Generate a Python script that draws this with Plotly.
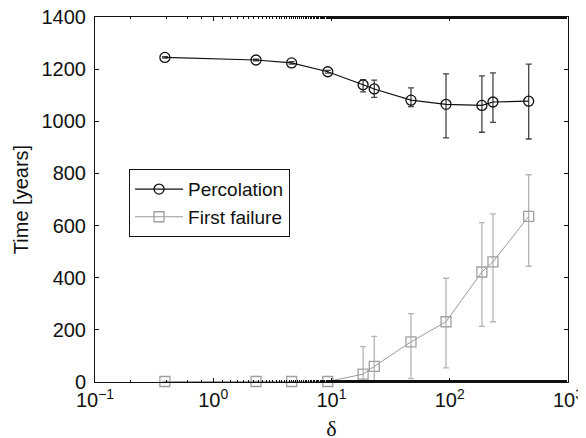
import plotly.graph_objects as go

delta = [0.39, 2.3, 4.6, 9.3, 18.5, 23, 47, 93, 187, 232, 465]

perc = [1245, 1235, 1224, 1190, 1140, 1124, 1081, 1065, 1061, 1074, 1077]
perc_up = [3, 3, 5, 5, 20, 34, 47, 117, 113, 112, 142]
perc_dn = [3, 3, 5, 5, 27, 32, 25, 129, 103, 78, 145]

fail = [2, 2, 2, 2, 30, 60, 154, 231, 422, 461, 635]
fail_up = [0, 0, 0, 0, 106, 115, 108, 167, 189, 184, 160]
fail_dn = [0, 0, 0, 0, 30, 60, 141, 177, 209, 230, 191]

xtickvals = [0.1, 1, 10, 100, 1000]
xticktext = ["10<sup>−1</sup>", "10<sup>0</sup>", "10<sup>1</sup>", "10<sup>2</sup>", "10<sup>3</sup>"]
yticks = [0, 200, 400, 600, 800, 1000, 1200, 1400]

FONT = "Liberation Sans, Arial, Helvetica, sans-serif"

fig = go.Figure()
fig.add_trace(go.Scatter(
    x=delta, y=perc, name="Percolation", mode="lines+markers", cliponaxis=False,
    line=dict(color="#111111", width=1.2),
    marker=dict(symbol="circle-open", size=10, color="#111111", line=dict(width=1.3)),
    error_y=dict(type="data", symmetric=False, array=perc_up, arrayminus=perc_dn,
                 color="#444444", thickness=1.3, width=3),
))
fig.add_trace(go.Scatter(
    x=delta, y=fail, name="First failure", mode="lines+markers", cliponaxis=False,
    line=dict(color="#9a9a9a", width=1),
    marker=dict(symbol="square-open", size=10, color="#a0a0a0", line=dict(width=1.3)),
    error_y=dict(type="data", symmetric=False, array=fail_up, arrayminus=fail_dn,
                 color="#b5b5b5", thickness=1.3, width=3),
))

fig.update_layout(
    width=586, height=438,
    margin=dict(l=87, r=26, t=9, b=64),
    paper_bgcolor="white", plot_bgcolor="white",
    font=dict(family=FONT, size=20, color="#111111"),
    showlegend=True,
    legend=dict(x=0.072, y=0.583, xanchor="left", yanchor="top",
                bgcolor="white", bordercolor="#111111", borderwidth=1,
                font=dict(size=19), tracegroupgap=0, itemwidth=48),
    xaxis=dict(type="log", range=[-1, 3], tickvals=xtickvals, ticktext=xticktext,
               automargin=False, ticklabeloverflow="allow",
               ticks="inside", ticklen=4, tickcolor="#111111",
               minor=dict(ticks="inside", ticklen=2, tickcolor="#111111", showgrid=False),
               showline=True, linecolor="#111111", linewidth=1, mirror="ticks",
               showgrid=False, zeroline=False,
               title=dict(text="δ", font=dict(family="Liberation Serif, Times New Roman, serif", size=22), standoff=10)),
    yaxis=dict(range=[0, 1400], tickvals=yticks, automargin=False,
               ticklabeloverflow="allow", ticklabelstandoff=4,
               ticks="inside", ticklen=4, tickcolor="#111111",
               showline=True, linecolor="#111111", linewidth=1, mirror="ticks",
               showgrid=False, zeroline=False,
               title=dict(text="Time [years]", font=dict(size=20), standoff=7)),
)

fig.write_html("out.html")
